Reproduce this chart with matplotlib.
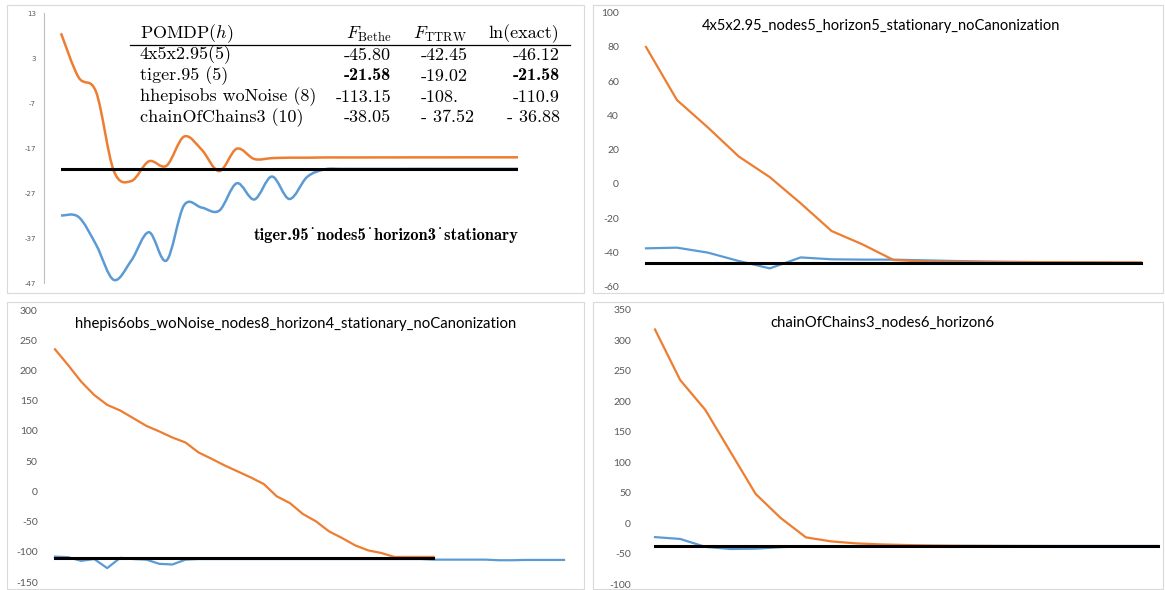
import matplotlib
matplotlib.use('Agg')
import matplotlib.pyplot as plt
from matplotlib.path import Path
from matplotlib.patches import PathPatch, Rectangle

W, H = 1165, 590

# tiger.95 panel (smoothed lines)
tiger_ticks = [13, 3, -7, -17, -27, -37, -47]
tiger_ttrw = [8.6, -1.2, -4.5, -22.0, -24.3, -19.9, -20.9, -14.4, -17.3, -22.1, -17.1,
              -19.4, -19.2, -19.1, -19.1, -19.05, -19.05, -19.05, -19.04, -19.04, -19.03,
              -19.03, -19.03, -19.02, -19.02, -19.02, -19.02]
tiger_bethe = [-32.0, -32.3, -38.5, -46.3, -42.0, -35.7, -42.0, -29.7, -30.2, -30.9, -24.8,
               -28.4, -23.3, -28.3, -23.4, -21.7, -21.6, -21.6, -21.6, -21.6, -21.58,
               -21.58, -21.58, -21.58, -21.58, -21.58, -21.58]
tiger_exact = -21.58

# 4x5x2.95 panel
grid_ticks = [100, 80, 60, 40, 20, 0, -20, -40, -60]
grid_ttrw = [80, 49, 33, 16, 4, -11.3, -27.5, -35.3, -44.4, -45.3, -45.5, -45.6, -45.7,
             -45.7, -45.8, -45.8, -45.8]
grid_bethe = [-37.6, -37.2, -40.1, -45.0, -49.3, -42.9, -44.0, -44.2, -44.2, -44.6, -45.0,
              -45.3, -45.5, -45.7, -45.8, -45.9, -46.0]
grid_exact = -46.12

# hhepis6obs panel
hhepis_ticks = [300, 250, 200, 150, 100, 50, 0, -50, -100, -150]
hhepis_ttrw = [235, 209, 181.6, 159.5, 143, 133.7, 121, 108.3, 99, 89, 80.8, 64.3, 53.8,
               42.8, 32.9, 23, 12, -8.4, -19.5, -37.6, -49.7, -66.3, -77.3, -89.4, -97.7,
               -102, -108.5, -108.5, -108.5, -108.5]
hhepis_bethe = [-108, -109, -115, -112, -127, -110, -112, -113, -120, -121, -113, -112,
                -112, -112, -112, -112, -112, -112, -112, -112, -112, -112, -112, -112,
                -112, -112, -112, -112, -112, -113, -113, -113, -113, -113, -114, -114,
                -113.5, -113.5, -113.5, -113.5]
hhepis_exact = -110.9

# chainOfChains3 panel
chain_ticks = [350, 300, 250, 200, 150, 100, 50, 0, -50, -100]
chain_ttrw = [318, 235, 186, 117, 48, 8.3, -23.4, -30, -33.3, -35, -36, -36.8, -37.2,
              -37.4, -37.6, -37.7, -37.8, -37.9, -37.9, -38.0, -38.0]
chain_bethe = [-23, -26, -39, -42.5, -42, -39.5, -38, -37.8, -37.7, -37.6, -37.6, -37.5,
               -37.5, -37.5, -37.5, -37.5, -37.5, -37.5, -37.5, -37.5, -37.5]
chain_exact = -36.88

# table in the tiger panel
table_header = [r'POMDP($h$)', r'$F_{\mathrm{Bethe}}$', r'$F_{\mathrm{TTRW}}$', 'ln(exact)']
table_names = ['4x5x2.95(5)', 'tiger.95 (5)', 'hhepisobs woNoise (8)', 'chainOfChains3 (10)']
table_bethe = ['-45.80', '-21.58', '-113.15', '-38.05']
table_ttrw = ['-42.45', '-19.02', '-108.', '- 37.52']
table_exact = ['-46.12', '-21.58', '-110.9', '- 36.88']
table_bold = [False, True, False, False]

ORANGE = '#ED7D31'
BLUE = '#5B9BD5'
GRAY = '#595959'

plt.rcParams['mathtext.fontset'] = 'cm'

fig = plt.figure(figsize=(W / 100, H / 100), dpi=100)


def px_box(left, right, top, bottom):
    return [left / W, 1 - bottom / H, (right - left) / W, (bottom - top) / H]


def frame(left, right, top, bottom):
    fig.add_artist(Rectangle((left / W, 1 - bottom / H), (right - left) / W, (bottom - top) / H,
                             transform=fig.transFigure, fill=False,
                             edgecolor='#d9d9d9', lw=0.8))


def smooth_path(ys):
    # Excel style smoothed line, cubic bezier through the points
    pts = list(enumerate(ys))
    n = len(pts)
    verts = [pts[0]]
    codes = [Path.MOVETO]
    for i in range(n - 1):
        p0 = pts[max(i - 1, 0)]
        p1 = pts[i]
        p2 = pts[i + 1]
        p3 = pts[min(i + 2, n - 1)]
        c1 = (p1[0] + (p2[0] - p0[0]) / 6, p1[1] + (p2[1] - p0[1]) / 6)
        c2 = (p2[0] - (p3[0] - p1[0]) / 6, p2[1] - (p3[1] - p1[1]) / 6)
        verts += [c1, c2, p2]
        codes += [Path.CURVE4] * 3
    return Path(verts, codes)


def setup(ax, ticks, npts, pad, size):
    ax.set_xlim(0, npts - 1)
    ax.set_ylim(min(ticks), max(ticks))
    ax.set_xticks([])
    ax.set_yticks(ticks)
    ax.set_yticklabels([str(t) for t in ticks], fontfamily='Lato')
    ax.tick_params(axis='y', length=0, pad=pad, labelsize=size, labelcolor=GRAY)
    for s in ax.spines.values():
        s.set_visible(False)
    ax.patch.set_visible(False)


def straight(ax, ttrw, bethe, exact, nexact):
    ax.plot(range(len(bethe)), bethe, color=BLUE, lw=1.6, solid_joinstyle='round', clip_on=False)
    ax.plot(range(len(ttrw)), ttrw, color=ORANGE, lw=1.6, solid_joinstyle='round', clip_on=False)
    ax.plot([0, nexact - 1], [exact, exact], color='black', lw=2.2, clip_on=False)


frame(7, 584, 5, 293)
frame(593, 1163, 5, 293)
frame(7, 584, 302, 589)
frame(593, 1163, 302, 589)

# top left: tiger
ax1 = fig.add_axes(px_box(61, 518, 13.5, 283))
setup(ax1, tiger_ticks, len(tiger_ttrw), 5.8, 5)
ax1.spines['left'].set_visible(True)
ax1.spines['left'].set_position(('outward', 12.2))
ax1.spines['left'].set_color('#bfbfbf')
ax1.spines['left'].set_linewidth(0.8)
ax1.add_patch(PathPatch(smooth_path(tiger_bethe), fill=False, edgecolor=BLUE, lw=1.8,
                        clip_on=False))
ax1.add_patch(PathPatch(smooth_path(tiger_ttrw), fill=False, edgecolor=ORANGE, lw=1.8,
                        clip_on=False))
ax1.plot([0, len(tiger_ttrw) - 1], [tiger_exact, tiger_exact], color='black', lw=2.2)

# table text
fs = 13
fig.text(140 / W, 1 - 34 / H, table_header[0], family='cmr10', fontsize=fs, va='center')
fig.text(391 / W, 1 - 34 / H, table_header[1], fontsize=fs, va='center', ha='right')
fig.text(467 / W, 1 - 34 / H, table_header[2], fontsize=fs, va='center', ha='right')
fig.text(559 / W, 1 - 34 / H, table_header[3], family='cmr10', fontsize=fs, va='center',
         ha='right')
fig.add_artist(plt.Line2D([130 / W, 570 / W], [1 - 45 / H, 1 - 45 / H], color='black',
                          lw=0.9, transform=fig.transFigure))
row_y = [55, 76, 97, 117.5]
for i in range(len(table_names)):
    y = 1 - row_y[i] / H
    bfam = 'cmb10' if table_bold[i] else 'cmr10'
    fig.text(140 / W, y, table_names[i], family='cmr10', fontsize=fs, va='center')
    fig.text(391 / W, y, table_bethe[i], family=bfam, fontsize=fs, va='center', ha='right')
    fig.text(421 / W, y, table_ttrw[i], family='cmr10', fontsize=fs, va='center', ha='left')
    fig.text(560 / W, y, table_exact[i], family=bfam, fontsize=fs, va='center', ha='right')

fig.text(518 / W, 1 - 235 / H, 'tiger.95\u02d9nodes5\u02d9horizon3\u02d9stationary',
         family=['cmb10', 'DejaVu Serif'], fontsize=11.9, va='center', ha='right')

# top right: 4x5x2.95
ax2 = fig.add_axes(px_box(646, 1141, 12.7, 286.7))
setup(ax2, grid_ticks, len(grid_ttrw), 19.4, 7.5)
straight(ax2, grid_ttrw, grid_bethe, grid_exact, len(grid_ttrw))
fig.text(881 / W, 1 - 26 / H, '4x5x2.95_nodes5_horizon5_stationary_noCanonization',
         family='Lato', fontsize=10.5, va='center', ha='center')

# bottom left: hhepis
ax3 = fig.add_axes(px_box(55, 564, 310, 582))
setup(ax3, hhepis_ticks, len(hhepis_bethe), 12.5, 7.5)
straight(ax3, hhepis_ttrw, hhepis_bethe, hhepis_exact, len(hhepis_ttrw))
fig.text(296 / W, 1 - 324 / H, 'hhepis6obs_woNoise_nodes8_horizon4_stationary_noCanonization',
         family='Lato', fontsize=10.7, va='center', ha='center')

# bottom right: chainOfChains3
ax4 = fig.add_axes(px_box(655, 1158, 310, 584))
setup(ax4, chain_ticks, len(chain_ttrw), 17.3, 7.5)
straight(ax4, chain_ttrw, chain_bethe, chain_exact, len(chain_ttrw))
fig.text(882 / W, 1 - 323 / H, 'chainOfChains3_nodes6_horizon6',
         family='Lato', fontsize=10.7, va='center', ha='center')

fig.savefig('out.png', dpi=100)
